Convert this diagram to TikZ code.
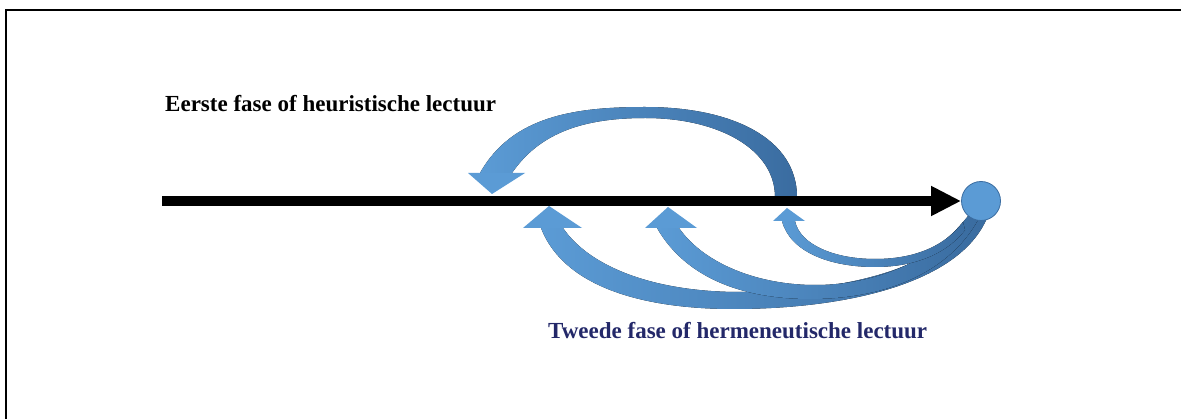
\documentclass[tikz,border=0pt]{standalone}
\usepackage{fontspec}
\setmainfont{Liberation Serif}
\usetikzlibrary{arrows.meta}
\definecolor{lightblue}{RGB}{91,155,213}
\definecolor{darkblue}{RGB}{58,108,160}
\definecolor{navytext}{RGB}{35,40,105}

\begin{document}
\begin{tikzpicture}[x=1pt,y=-1pt,
		bodyfill/.style={left color=lightblue, right color=darkblue},
		headfill/.style={fill=lightblue},
		phase/.style={font=\fontsize{23}{27}\selectfont\bfseries, inner sep=0pt, anchor=west}]
			%%%%% START %%%%%
			
			\useasboundingbox (0,0) rectangle (1181,419);
			\draw[line width=2.5] (6,419) -- (6,10) -- (1181,10);
			
			\coordinate (start) at (162,201);
			\coordinate (tu) at (492,194);
			\coordinate (t1) at (787,208);
			\coordinate (t2) at (668,207);
			\coordinate (t3) at (549,206);
			
			% upper arc
			\fill[bodyfill] (480,173) .. controls (512,116) and (575,107) .. (645,107) .. controls (735,107) and (797,140) .. (797,197) -- (775,197) .. controls (775,150) and (720,118) .. (645,118) .. controls (585,118) and (540,132) .. (512,173) -- cycle;
			\fill[headfill] (tu) -- ++(-24,-21) -- ++(57,0) -- cycle;
			
			% lower arcs
			\fill[bodyfill] (541,228) .. controls (565,290) and (650,309) .. (733,309) .. controls (850,309) and (960,282) .. (987,218) -- (970,215) .. controls (940,270) and (840,292) .. (740,292) .. controls (660,292) and (592,270) .. (563,228) -- cycle;
			\fill[bodyfill] (657,228) .. controls (688,282) and (750,299) .. (810,299) .. controls (890,299) and (950,270) .. (978,220) -- (968,216) .. controls (930,265) and (870,285) .. (815,285) .. controls (760,285) and (705,265) .. (679,228) -- cycle;
			\fill[bodyfill] (782,221) .. controls (790,252) and (830,267) .. (875,267) .. controls (920,267) and (950,250) .. (965,230) -- (963,222) .. controls (945,246) and (915,259) .. (875,259) .. controls (835,259) and (800,245) .. (795,221) -- cycle;
			\fill[headfill] (t3) -- ++(-26,22) -- ++(59,0) -- cycle;
			\fill[headfill] (t2) -- ++(-23,21) -- ++(52,0) -- cycle;
			\fill[headfill] (t1) -- ++(-14,13) -- ++(32,0) -- cycle;
			
			\node[circle, fill=lightblue, draw=darkblue, line width=0.8, minimum size=39, inner sep=0] (end) at (981,201) {};
			\draw[line width=10, -{Triangle[length=30pt,width=28pt]}] (start) -- (end.west);
			
			\node[phase] (first) at (165,104) {Eerste fase of heuristische lectuur};
			\node[phase, text=navytext] (second) at (548,331) {Tweede fase of hermeneutische lectuur};
			
			%%%%% END %%%%%
\end{tikzpicture}
\end{document}
